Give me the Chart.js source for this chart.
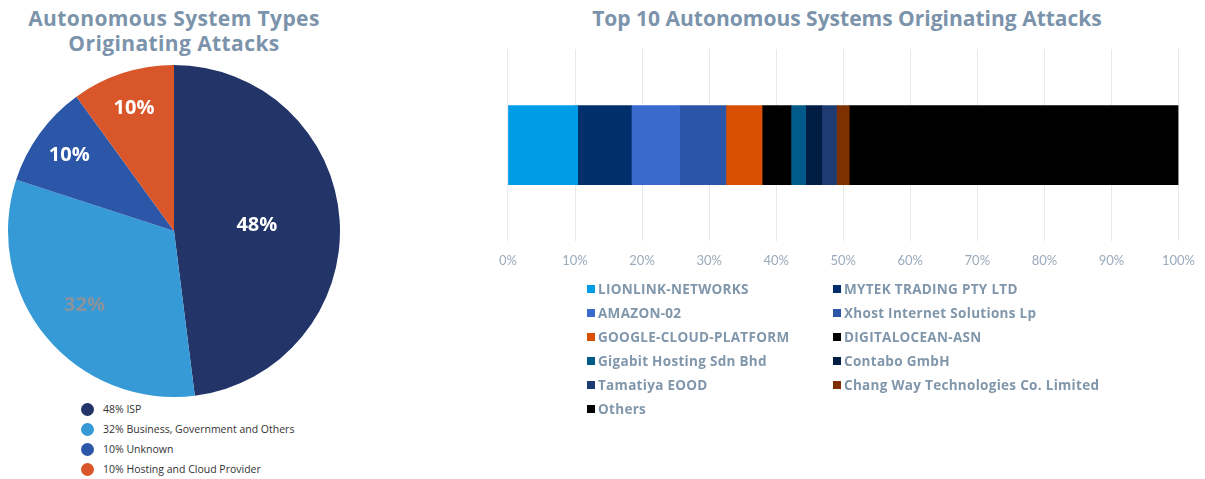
<!DOCTYPE html>
<html>
<head>
<meta charset="utf-8">
<script src="https://cdn.jsdelivr.net/npm/chart.js@4"></script>
<style>
  body { margin: 0; width: 1205px; height: 479px; background: #fff; position: relative; overflow: hidden; font-family: "Open Sans", sans-serif; }
  .title { position: absolute; color: #7b93ab; font-weight: 700; font-size: 21px; text-align: center; line-height: 25px; }
  #pieTitle { left: 0; width: 348px; top: 6px; letter-spacing: 0.4px; }
  #barTitle { left: 507px; width: 680px; top: 6px; }
  #pieWrap { position: absolute; left: 0; top: 65px; width: 348px; height: 332px; }
  #barWrap { position: absolute; left: 487px; top: 29px; width: 720px; height: 252px; }
  #pieLegend { position: absolute; left: 81px; top: 399px; font-size: 10.5px; color: #333; }
  #pieLegend div { height: 20px; line-height: 20px; display: flex; align-items: center; }
  #pieLegend span.dot { width: 13px; height: 13px; border-radius: 50%; margin-right: 9px; display: inline-block; }
  #barLegend { position: absolute; left: 587px; top: 277px; display: grid; grid-template-columns: 246px 300px; font-size: 13.5px; font-weight: 700; color: #8096ab; letter-spacing: 0.3px; }
  #barLegend div { height: 24px; line-height: 20px; display: flex; align-items: center; white-space: nowrap; }
  #barLegend span.box { width: 8px; height: 8px; margin-right: 3px; display: inline-block; }
</style>
</head>
<body>
<div class="title" id="pieTitle">Autonomous System Types<br>Originating Attacks</div>
<div class="title" id="barTitle">Top 10 Autonomous Systems Originating Attacks</div>
<div id="pieWrap"><canvas id="pieChart"></canvas></div>
<div id="barWrap"><canvas id="barChart"></canvas></div>
<div id="pieLegend"></div>
<div id="barLegend"></div>
<script>
// pie: system types
const typeLabels = ['ISP', 'Business, Government and Others', 'Unknown', 'Hosting and Cloud Provider'];
const typeValues = [48, 32, 10, 10];
const typeColors = ['#233468', '#359ad6', '#2c57a8', '#d9562a'];
const typeLabelColors = ['#ffffff', '#8a929b', '#ffffff', '#ffffff'];
const typeLabelDist = [0.5, 0.7, 0.78, 0.78];

// bar: top 10 autonomous systems (share of attacks, %)
const asNames = ['LIONLINK-NETWORKS', 'MYTEK TRADING PTY LTD', 'AMAZON-02', 'Xhost Internet Solutions Lp',
  'GOOGLE-CLOUD-PLATFORM', 'DIGITALOCEAN-ASN', 'Gigabit Hosting Sdn Bhd', 'Contabo GmbH',
  'Tamatiya EOOD', 'Chang Way Technologies Co. Limited', 'Others'];
const asShares = [10.4, 8.0, 7.2, 6.9, 5.4, 4.3, 2.2, 2.4, 2.2, 1.9, 49.1];
const asColors = ['#009ce5', '#002f6c', '#3a6bcc', '#2b55a6', '#d95005', '#000000', '#005b8a',
  '#001e44', '#1f3b73', '#7f3000', '#000000'];
const xTicks = [0, 10, 20, 30, 40, 50, 60, 70, 80, 90, 100];

const pieLabelPlugin = {
  id: 'pieLabels',
  afterDatasetsDraw(chart) {
    const ctx = chart.ctx;
    const meta = chart.getDatasetMeta(0);
    ctx.save();
    ctx.font = '700 20px "Open Sans"';
    ctx.textAlign = 'center';
    ctx.textBaseline = 'middle';
    meta.data.forEach((arc, i) => {
      const p = arc.getProps(['x', 'y', 'startAngle', 'endAngle', 'outerRadius'], true);
      const mid = (p.startAngle + p.endAngle) / 2;
      const r = p.outerRadius * typeLabelDist[i];
      ctx.fillStyle = typeLabelColors[i];
      ctx.fillText(typeValues[i] + '%', p.x + Math.cos(mid) * r, p.y + Math.sin(mid) * r);
    });
    ctx.restore();
  }
};

new Chart(document.getElementById('pieChart'), {
  type: 'pie',
  data: {
    labels: typeLabels,
    datasets: [{ data: typeValues, backgroundColor: typeColors, borderWidth: 0 }]
  },
  options: {
    responsive: true,
    maintainAspectRatio: false,
    animation: false,
    plugins: { legend: { display: false }, tooltip: { enabled: false } }
  },
  plugins: [pieLabelPlugin]
});

new Chart(document.getElementById('barChart'), {
  type: 'bar',
  data: {
    labels: [''],
    datasets: asNames.map((name, i) => ({
      label: name,
      data: [asShares[i]],
      backgroundColor: asColors[i],
      borderWidth: 0,
      barThickness: 79
    }))
  },
  options: {
    indexAxis: 'y',
    responsive: true,
    maintainAspectRatio: false,
    animation: false,
    layout: { padding: { left: 20, right: 20, top: 20 } },
    plugins: { legend: { display: false }, tooltip: { enabled: false } },
    scales: {
      x: {
        stacked: true,
        min: 0,
        max: 100,
        afterBuildTicks: axis => { axis.ticks = xTicks.map(v => ({ value: v })); },
        grid: { color: '#e6eaef', drawTicks: false },
        border: { display: false },
        ticks: { padding: 12, color: '#9aabbd', font: { family: 'Lato', size: 13 }, callback: v => v + '%' }
      },
      y: { stacked: true, display: false }
    }
  }
});

const pieLegend = document.getElementById('pieLegend');
typeLabels.forEach((name, i) => {
  const row = document.createElement('div');
  row.innerHTML = `<span class="dot" style="background:${typeColors[i]}"></span>${typeValues[i]}% ${name}`;
  pieLegend.appendChild(row);
});

const barLegend = document.getElementById('barLegend');
asNames.forEach((name, i) => {
  const row = document.createElement('div');
  row.innerHTML = `<span class="box" style="background:${asColors[i]}"></span>${name}`;
  barLegend.appendChild(row);
});
</script>
</body>
</html>
